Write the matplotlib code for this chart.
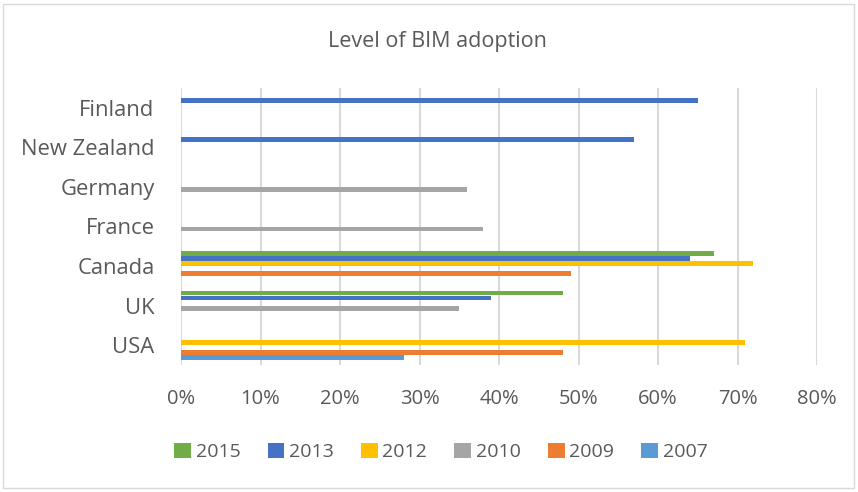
import matplotlib.pyplot as plt
from matplotlib.patches import Rectangle
import numpy as np

plt.rcParams['font.family'] = ['Open Sans', 'DejaVu Sans']

countries = ["USA", "UK", "Canada", "France", "Germany", "New Zealand", "Finland"]
years = ["2015", "2013", "2012", "2010", "2009", "2007"]
colors = ["#70AD47", "#4472C4", "#FFC000", "#A5A5A5", "#ED7D31", "#5B9BD5"]

# adoption level (%) per year, ordered like countries; None = no data
y2015 = [None, 48, 67, None, None, None, None]
y2013 = [None, 39, 64, None, None, 57, 65]
y2012 = [71, None, 72, None, None, None, None]
y2010 = [None, 35, None, 38, 36, None, None]
y2009 = [48, None, 49, None, None, None, None]
y2007 = [28, None, None, None, None, None, None]
series = [y2015, y2013, y2012, y2010, y2009, y2007]

txt = "#595959"
fig = plt.figure(figsize=(8.58, 4.92), dpi=100)
ax = fig.add_axes([181/858, 1 - 365/492, 636/858, 277/492])

h = 0.128
pos = np.arange(len(countries))
for i, (vals, lab, c) in enumerate(zip(series, years, colors)):
    v = [np.nan if x is None else x / 100 for x in vals]
    ax.barh(pos + (2.5 - i) * h, v, height=h * 0.95, color=c, label=lab, zorder=3)

ax.set_xlim(0, 0.8)
ax.set_ylim(-0.5, len(countries) - 0.5)
ax.set_xticks(np.arange(0, 0.81, 0.1))
ax.set_xticklabels([f"{int(round(t*100))}%" for t in np.arange(0, 0.81, 0.1)])
ax.set_yticks(pos)
ax.set_yticklabels(countries)
ax.tick_params(axis='x', labelsize=14.5, colors=txt, length=0, pad=17)
ax.tick_params(axis='y', labelsize=15.8, colors=txt, length=0, pad=19)
ax.grid(axis='x', color="#D9D9D9", linewidth=1.5, zorder=0)
for s in ax.spines.values():
    s.set_visible(False)

fig.text(437/858, 1 - 42/492, "Level of BIM adoption", ha='center', va='center',
         fontsize=15.5, color=txt)

fig.legend(loc='center', bbox_to_anchor=(441/858, 1 - 452/492), ncol=6,
           frameon=False, fontsize=14, labelcolor=txt, handlelength=0.85,
           handleheight=0.85, handletextpad=0.25, columnspacing=1.4)

fig.patches.append(Rectangle((3/858, 4/492), 851/858, 484/492, transform=fig.transFigure,
                             fill=False, edgecolor="#D9D9D9", linewidth=1))

fig.savefig("out.png", dpi=100)
